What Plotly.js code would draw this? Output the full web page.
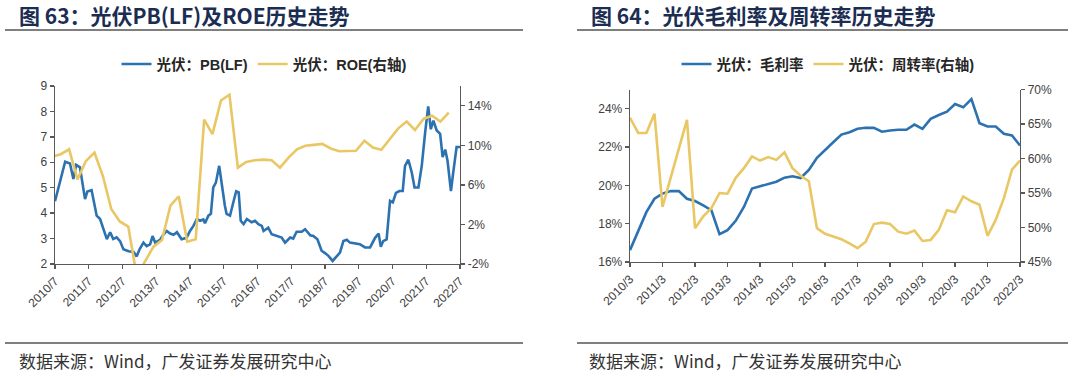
<!DOCTYPE html>
<html>
<head>
<meta charset="utf-8">
<script src="https://cdn.plot.ly/plotly-3.0.1.min.js"></script>
<style>html,body{margin:0;padding:0;background:#fff;}#chart{width:1080px;height:377px;}</style>
</head>
<body>
<div id="chart"></div>
<script>
// ---------- Chart 63: PB(LF) and ROE ----------
const pbDates = ["2010-07-01","2010-10-19","2010-12-10","2011-01-16","2011-02-15","2011-03-28","2011-05-22","2011-06-16","2011-08-01","2011-09-25","2011-11-01","2012-01-13","2012-02-18","2012-03-22","2012-04-28","2012-06-04","2012-07-10","2012-09-04","2012-10-28","2012-12-01","2013-01-01","2013-02-12","2013-03-19","2013-04-25","2013-05-22","2013-06-19","2013-08-10","2013-09-16","2013-10-22","2013-11-28","2014-01-04","2014-02-10","2014-04-01","2014-05-25","2014-07-01","2014-08-07","2014-09-13","2014-10-19","2014-11-22","2014-12-10","2015-01-16","2015-02-12","2015-03-10","2015-04-07","2015-05-13","2015-06-10","2015-07-13","2015-08-01","2015-09-07","2015-10-13","2015-11-13","2015-12-10","2016-01-01","2016-02-01","2016-03-07","2016-04-28","2016-06-04","2016-07-10","2016-08-16","2016-09-04","2016-10-25","2016-12-01","2017-01-25","2017-03-19","2017-04-25","2017-06-19","2017-07-22","2017-08-28","2017-10-22","2017-11-28","2018-01-22","2018-02-25","2018-04-10","2018-05-25","2018-07-01","2018-08-07","2018-09-22","2018-11-07","2018-12-10","2019-01-16","2019-02-22","2019-03-28","2019-05-22","2019-07-13","2019-09-07","2019-11-01","2019-12-25","2020-02-01","2020-02-25","2020-03-22","2020-04-28","2020-06-04","2020-07-04","2020-08-07","2020-09-13","2020-10-19","2020-11-13","2020-12-19","2021-01-25","2021-02-24","2021-04-07","2021-05-13","2021-06-19","2021-07-22","2021-08-19","2021-09-16","2021-10-22","2021-11-28","2021-12-25","2022-01-22","2022-02-16","2022-03-25","2022-04-19","2022-05-25","2022-07-01"];
const pbValues = [4.47,6.02,5.95,5.34,5.9,5.8,4.55,4.85,4.9,3.9,3.77,2.98,3.25,2.98,3.05,2.9,2.58,2.5,2.47,2.3,2.58,2.84,2.7,2.77,3.1,2.84,2.95,3.16,3.3,3.2,3.15,3.25,2.97,3.03,3.3,3.5,3.77,3.7,3.75,3.6,3.9,3.97,5.01,5.2,5.86,5.1,4.3,3.97,3.9,4.43,4.86,4.82,3.7,3.57,3.77,3.64,3.7,3.57,3.5,3.3,3.43,3.17,3.1,3.04,2.84,3.04,3.0,3.27,3.27,3.37,3.13,3.1,2.97,2.52,2.43,2.32,2.12,2.32,2.45,2.9,2.95,2.84,2.82,2.78,2.65,2.65,3.03,3.2,2.68,2.9,2.97,4.48,4.42,4.8,4.87,4.87,5.86,6.1,5.6,5.01,5.01,5.86,7.18,8.2,7.3,7.64,7.25,7.12,6.2,6.5,6.06,4.87,5.6,6.6,6.6];

const roeDates = ["2010-06","2010-09","2010-12","2011-03","2011-06","2011-09","2011-12","2012-03","2012-06","2012-09","2012-12","2013-03","2013-06","2013-09","2013-12","2014-03","2014-06","2014-09","2014-12","2015-03","2015-06","2015-09","2015-12","2016-03","2016-06","2016-09","2016-12","2017-03","2017-06","2017-09","2017-12","2018-03","2018-06","2018-09","2018-12","2019-03","2019-06","2019-09","2019-12","2020-03","2020-06","2020-09","2020-12","2021-03","2021-06","2021-09","2021-12","2022-03"];
const roeValues = [8.85,9.1,9.6,6.55,8.42,9.27,6.9,3.56,2.3,1.79,-3.2,-1.7,-0.25,0.43,3.9,4.85,0.26,0.5,12.6,11.14,14.54,15.12,7.74,8.32,8.5,8.55,8.5,7.74,8.76,9.6,9.95,10.05,10.15,9.68,9.4,9.42,9.45,10.46,9.78,9.55,10.63,11.72,12.4,11.55,12.67,13.0,12.4,13.3];

const xTicks63 = ["2010-07-01","2011-07-01","2012-07-01","2013-07-01","2014-07-01","2015-07-01","2016-07-01","2017-07-01","2018-07-01","2019-07-01","2020-07-01","2021-07-01","2022-07-01"];
const xLabels63 = ["2010/7","2011/7","2012/7","2013/7","2014/7","2015/7","2016/7","2017/7","2018/7","2019/7","2020/7","2021/7","2022/7"];
const roeTicks = [-2,2,6,10,14];

// ---------- Chart 64: gross margin and turnover ----------
const qDates = ["2010-03","2010-06","2010-09","2010-12","2011-03","2011-06","2011-09","2011-12","2012-03","2012-06","2012-09","2012-12","2013-03","2013-06","2013-09","2013-12","2014-03","2014-06","2014-09","2014-12","2015-03","2015-06","2015-09","2015-12","2016-03","2016-06","2016-09","2016-12","2017-03","2017-06","2017-09","2017-12","2018-03","2018-06","2018-09","2018-12","2019-03","2019-06","2019-09","2019-12","2020-03","2020-06","2020-09","2020-12","2021-03","2021-06","2021-09","2021-12","2022-03"];
const grossMargin = [16.62,17.66,18.6,19.3,19.57,19.7,19.7,19.3,19.18,18.96,18.7,17.45,17.66,18.15,18.87,19.83,19.95,20.09,20.19,20.4,20.47,20.38,20.8,21.44,21.82,22.25,22.65,22.77,22.95,23.0,23.0,22.8,22.86,22.9,22.9,23.17,22.95,23.47,23.67,23.84,24.24,24.07,24.5,23.24,23.07,23.07,22.69,22.6,22.08];
const turnover = [65.9,63.7,63.7,66.5,53.0,57.2,61.4,65.6,49.9,51.6,52.8,55.0,54.9,57.2,58.6,60.3,59.7,60.2,59.8,60.9,58.6,57.5,56.7,49.9,49.1,48.7,48.3,47.7,47.0,47.95,50.5,50.7,50.5,49.4,49.1,49.55,48.05,48.2,49.65,52.5,52.2,54.5,53.8,53.3,48.8,51.1,54.25,58.4,59.7];

const xTicks64 = ["2010-03-01","2011-03-01","2012-03-01","2013-03-01","2014-03-01","2015-03-01","2016-03-01","2017-03-01","2018-03-01","2019-03-01","2020-03-01","2021-03-01","2022-03-01"];
const xLabels64 = ["2010/3","2011/3","2012/3","2013/3","2014/3","2015/3","2016/3","2017/3","2018/3","2019/3","2020/3","2021/3","2022/3"];

const titles = ["图 63：光伏PB(LF)及ROE历史走势", "图 64：光伏毛利率及周转率历史走势"];
const sourceText = "数据来源：Wind，广发证券发展研究中心";
const names = ["光伏：PB(LF)", "光伏：ROE(右轴)", "光伏：毛利率", "光伏：周转率(右轴)"];

const BLUE = "#2C72B0", GOLD = "#E9C764";
const FONT = "Liberation Sans, Arial, Noto Sans CJK SC, sans-serif";
const CJK = "Noto Sans CJK SC, Liberation Sans, sans-serif";
const W = 1080, H = 377;
const px = v => v / W, py = v => (H - v) / H;

const traces = [
  {x: pbDates, y: pbValues, name: names[0], type: "scatter", mode: "lines", line: {color: BLUE, width: 2.6}, xaxis: "x", yaxis: "y", legend: "legend"},
  {x: roeDates, y: roeValues, name: names[1], type: "scatter", mode: "lines", line: {color: GOLD, width: 2.6}, xaxis: "x", yaxis: "y2", legend: "legend"},
  {x: qDates, y: grossMargin, name: names[2], type: "scatter", mode: "lines", line: {color: BLUE, width: 2.6}, xaxis: "x2", yaxis: "y3", legend: "legend2"},
  {x: qDates, y: turnover, name: names[3], type: "scatter", mode: "lines", line: {color: GOLD, width: 2.6}, xaxis: "x2", yaxis: "y4", legend: "legend2"}
];

const axisCommon = {showline: true, linecolor: "#595959", linewidth: 1.3, ticks: "outside", ticklen: 4, tickcolor: "#595959", tickwidth: 1.3, showgrid: false, zeroline: false, tickfont: {family: FONT, size: 12, color: "#404040"}, fixedrange: true};
const xTickFont = {family: FONT, size: 12, color: "#404040"};
const legendFont = {family: FONT, size: 14.5, color: "#262626", weight: "bold"};

const layout = {
  width: W, height: H,
  margin: {l: 0, r: 0, t: 0, b: 0},
  paper_bgcolor: "#fff", plot_bgcolor: "#fff",
  showlegend: true,
  xaxis: Object.assign({}, axisCommon, {domain: [px(55), px(460)], anchor: "y", type: "date", range: ["2010-07-01", "2022-07-01"], tickmode: "array", tickvals: xTicks63, ticktext: xLabels63, tickangle: -45, tickfont: xTickFont}),
  yaxis: Object.assign({}, axisCommon, {domain: [py(264), py(86)], anchor: "x", range: [2, 9], dtick: 1, tick0: 2}),
  yaxis2: Object.assign({}, axisCommon, {overlaying: "y", side: "right", anchor: "x", range: [-2, 16], tickmode: "array", tickvals: roeTicks, ticktext: roeTicks.map(v => v + "%")}),
  xaxis2: Object.assign({}, axisCommon, {domain: [px(630), px(1020)], anchor: "y3", type: "date", range: ["2010-03-01", "2022-03-01"], tickmode: "array", tickvals: xTicks64, ticktext: xLabels64, tickangle: -45, tickfont: xTickFont}),
  yaxis3: Object.assign({}, axisCommon, {domain: [py(262), py(89.5)], anchor: "x2", range: [16, 25], dtick: 2, tick0: 16, ticksuffix: "%"}),
  yaxis4: Object.assign({}, axisCommon, {overlaying: "y3", side: "right", anchor: "x2", range: [45, 70], dtick: 5, tick0: 45, ticksuffix: "%"}),
  legend: {orientation: "h", x: px(264), xanchor: "center", y: py(64), yanchor: "middle", font: legendFont, bgcolor: "rgba(0,0,0,0)", itemclick: false, itemdoubleclick: false},
  legend2: {orientation: "h", x: px(828), xanchor: "center", y: py(64), yanchor: "middle", font: legendFont, bgcolor: "rgba(0,0,0,0)", itemclick: false, itemdoubleclick: false},
  shapes: [
    {type: "line", xref: "paper", yref: "paper", x0: px(5), x1: px(523), y0: py(30), y1: py(30), line: {color: "#000", width: 1.2}},
    {type: "line", xref: "paper", yref: "paper", x0: px(577), x1: px(1068), y0: py(30), y1: py(30), line: {color: "#000", width: 1.2}},
    {type: "line", xref: "paper", yref: "paper", x0: px(5), x1: px(523), y0: py(343), y1: py(343), line: {color: "#000", width: 1.2}},
    {type: "line", xref: "paper", yref: "paper", x0: px(577), x1: px(1068), y0: py(343), y1: py(343), line: {color: "#000", width: 1.2}}
  ],
  annotations: [
    {text: titles[0], xref: "paper", yref: "paper", x: px(17), y: py(15), xanchor: "left", yanchor: "middle", showarrow: false, font: {family: CJK, size: 21, color: "#1B2D52", weight: "bold"}},
    {text: titles[1], xref: "paper", yref: "paper", x: px(589), y: py(15), xanchor: "left", yanchor: "middle", showarrow: false, font: {family: CJK, size: 21, color: "#1B2D52", weight: "bold"}},
    {text: sourceText, xref: "paper", yref: "paper", x: px(17), y: py(360), xanchor: "left", yanchor: "middle", showarrow: false, font: {family: CJK, size: 17, color: "#333"}},
    {text: sourceText, xref: "paper", yref: "paper", x: px(587), y: py(360), xanchor: "left", yanchor: "middle", showarrow: false, font: {family: CJK, size: 17, color: "#333"}}
  ]
};

Plotly.newPlot("chart", traces, layout, {staticPlot: true, displayModeBar: false});
</script>
</body>
</html>
